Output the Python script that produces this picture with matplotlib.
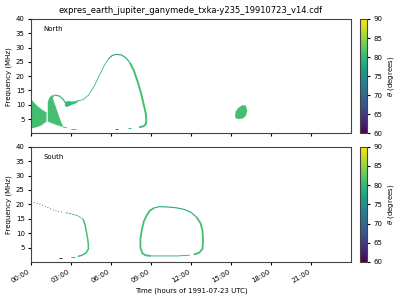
import numpy as np
import matplotlib
matplotlib.use("Agg")
import matplotlib.pyplot as plt
import matplotlib.dates as mdates
from matplotlib.colors import Normalize
from matplotlib.cm import ScalarMappable
import datetime as dt

title = "expres_earth_jupiter_ganymede_txka-y235_19910723_v14.cdf"
day = dt.datetime(1991, 7, 23)

# ---- North hemisphere: filled patches (hours, MHz, theta deg)
n_wedge_t = [0.0, 0.25, 0.5, 0.8, 1.15, 1.15, 0.8, 0.5, 0.2, 0.0]
n_wedge_f = [11.8, 10.6, 9.4, 8.3, 7.3, 4.1, 2.9, 2.3, 1.9, 1.8]
n_wedge_th = 81

n_hook_t = [1.27, 1.4, 1.6, 1.78, 1.62, 1.9, 2.2, 2.4, 2.0, 1.6, 1.27]
n_hook_f = [11.0, 12.6, 13.3, 13.4, 12.3, 8.5, 4.5, 2.3, 2.8, 3.5, 4.1]
n_hook_th = 81

n_knot_t = [2.55, 2.8, 3.1, 3.4, 3.6, 3.4, 3.0, 2.7, 2.55]
n_knot_f = [10.8, 11.3, 11.0, 11.3, 11.6, 10.6, 9.9, 9.2, 9.6]
n_knot_th = 80

n_blob_t = [15.3, 15.35, 15.55, 15.85, 16.1, 16.2, 16.1, 15.9, 15.6, 15.35]
n_blob_f = [6.0, 7.6, 8.9, 9.8, 9.6, 7.8, 6.2, 5.3, 5.0, 5.3]
n_blob_th = 81

# North arc segments (lines)
n_hookarc_t = [1.78, 2.15, 2.4, 2.6]
n_hookarc_f = [13.4, 13.0, 11.9, 10.6]
n_hookarc_th = 80

n_rise_t = [3.5, 3.9, 4.3, 4.7, 5.1, 5.5, 5.8]
n_rise_f = [11.3, 11.8, 13.3, 16.2, 20.0, 23.8, 26.0]
n_rise_th = 80

n_top_t = [5.8, 6.1, 6.4, 6.8, 7.1, 7.4]
n_top_f = [26.0, 27.3, 27.6, 27.4, 26.4, 24.8]
n_top_th = 77

n_fall_t = [7.4, 7.7, 8.0, 8.25, 8.45, 8.6, 8.65, 8.6, 8.45, 8.1]
n_fall_f = [24.8, 22.0, 18.0, 14.0, 10.0, 7.0, 4.5, 3.2, 2.5, 2.1]
n_fall_th = 81

n_dash0_t = [2.4, 2.7]
n_dash0_f = [2.2, 1.9]
n_dash0_th = 80
n_dash1_t = [3.0, 3.35]
n_dash1_f = [1.5, 1.5]
n_dash1_th = 79
n_dash2_t = [6.3, 6.55]
n_dash2_f = [1.6, 1.6]
n_dash2_th = 67
n_dash3_t = [7.3, 7.5]
n_dash3_f = [1.9, 1.9]
n_dash3_th = 77

# ---- South hemisphere
s_dots_t = [0.0, 0.3, 0.6, 0.9, 1.2, 1.5, 1.8, 2.1, 2.4]
s_dots_f = [20.9, 20.6, 20.2, 19.7, 19.1, 18.3, 17.8, 17.5, 17.3]
s_dots_th = 62

s_top_t = [2.6, 3.0, 3.4, 3.7, 3.9]
s_top_f = [17.1, 16.7, 16.2, 15.5, 14.8]
s_top_th = 77

s_leg_t = [3.9, 4.05, 4.15, 4.25, 4.3, 4.3, 4.15, 3.85, 3.5]
s_leg_f = [14.8, 13.0, 10.5, 8.0, 6.0, 4.5, 3.3, 2.4, 1.9]
s_leg_th = 81

s_dash1_t = [2.1, 2.35]
s_dash1_f = [1.3, 1.3]
s_dash1_th = 62
s_dash2_t = [3.0, 3.3]
s_dash2_f = [1.7, 1.7]
s_dash2_th = 77

s_left_t = [9.0, 8.6, 8.35, 8.2, 8.2, 8.3, 8.45, 8.65, 8.9, 9.2]
s_left_f = [2.1, 2.3, 3.0, 5.0, 8.0, 11.0, 14.0, 16.0, 17.8, 18.7]
s_left_th = 81

s_ltop_t = [9.2, 9.6, 10.2, 10.9, 11.5, 12.0, 12.4]
s_ltop_f = [18.7, 19.2, 19.1, 18.8, 18.2, 17.2, 15.6]
s_ltop_th = 78

s_right_t = [12.4, 12.7, 12.85, 12.9, 12.85, 12.6, 12.2]
s_right_f = [15.6, 13.5, 11.0, 7.5, 4.5, 3.2, 2.6]
s_right_th = 81

s_bot_t = [11.9, 11.4, 11.0, 10.0, 9.0]
s_bot_f = [2.4, 2.2, 2.1, 2.1, 2.1]
s_bot_th = 77

cmap = plt.get_cmap("viridis")
norm = Normalize(vmin=60, vmax=90)


def hrs(ts):
    return [day + dt.timedelta(hours=h) for h in ts]


def patch(ax, ts, fs, th):
    ax.fill(mdates.date2num(hrs(ts)), fs, color=cmap(norm(th)), lw=0.2)


def line(ax, ts, fs, th, lw=1.0, ls="-"):
    ax.plot(hrs(ts), fs, color=cmap(norm(th)), lw=lw, ls=ls, solid_capstyle="butt")


plt.rcParams["font.size"] = 5.0
plt.rcParams["xtick.major.size"] = 2.5
plt.rcParams["ytick.major.size"] = 2.5
plt.rcParams["xtick.major.pad"] = 2
plt.rcParams["ytick.major.pad"] = 2
plt.rcParams["axes.labelpad"] = 3

fig = plt.figure(figsize=(4, 3), dpi=100)
ax1 = fig.add_axes([0.0775, 0.5557, 0.8, 0.381])
ax2 = fig.add_axes([0.0775, 0.1267, 0.8, 0.3843])
cax1 = fig.add_axes([0.9, 0.5557, 0.0175, 0.381])
cax2 = fig.add_axes([0.9, 0.1267, 0.0175, 0.3843])

patch(ax1, n_wedge_t, n_wedge_f, n_wedge_th)
patch(ax1, n_hook_t, n_hook_f, n_hook_th)
patch(ax1, n_knot_t, n_knot_f, n_knot_th)
patch(ax1, n_blob_t, n_blob_f, n_blob_th)
line(ax1, n_hookarc_t, n_hookarc_f, n_hookarc_th, 0.9)
line(ax1, n_rise_t, n_rise_f, n_rise_th, 0.6)
line(ax1, n_top_t, n_top_f, n_top_th, 0.8)
line(ax1, n_fall_t, n_fall_f, n_fall_th, 1.4)
line(ax1, n_dash0_t, n_dash0_f, n_dash0_th, 0.6)
line(ax1, n_dash1_t, n_dash1_f, n_dash1_th, 0.6)
line(ax1, n_dash2_t, n_dash2_f, n_dash2_th, 0.6)
line(ax1, n_dash3_t, n_dash3_f, n_dash3_th, 0.6)

line(ax2, s_dots_t, s_dots_f, s_dots_th, 0.6, ls=(0, (1, 2.5)))
line(ax2, s_top_t, s_top_f, s_top_th, 0.6, ls=(0, (3, 1)))
line(ax2, s_leg_t, s_leg_f, s_leg_th, 1.1)
line(ax2, s_dash1_t, s_dash1_f, s_dash1_th, 0.7)
line(ax2, s_dash2_t, s_dash2_f, s_dash2_th, 0.6)
line(ax2, s_left_t, s_left_f, s_left_th, 1.3)
line(ax2, s_ltop_t, s_ltop_f, s_ltop_th, 0.8)
line(ax2, s_right_t, s_right_f, s_right_th, 1.3)
line(ax2, s_bot_t, s_bot_f, s_bot_th, 0.6)

for ax, lab in [(ax1, "North"), (ax2, "South")]:
    ax.set_xlim(day, day + dt.timedelta(hours=23, minutes=59))
    ax.set_ylim(0, 40)
    ax.set_yticks([5, 10, 15, 20, 25, 30, 35, 40])
    ax.set_ylabel("Frequency (MHz)")
    ax.xaxis.set_major_locator(mdates.HourLocator(byhour=range(0, 24, 3)))
    ax.xaxis.set_major_formatter(mdates.DateFormatter("%H:%M"))
    ax.text(0.04, 0.91, lab, transform=ax.transAxes, va="center")
    for s in ax.spines.values():
        s.set_color("#444444")

ax1.tick_params(labelbottom=False)
for t in ax2.get_xticklabels():
    t.set_rotation(30)
    t.set_ha("right")
ax2.set_xlabel("Time (hours of 1991-07-23 UTC)")
ax1.set_title(title, fontsize=6.0, pad=4)

for cax in (cax1, cax2):
    cb = fig.colorbar(ScalarMappable(norm=norm, cmap=cmap), cax=cax)
    cb.set_label(r"$\theta$ (degrees)")
    cb.outline.set_edgecolor("#444444")

fig.savefig("out.png", dpi=100)
